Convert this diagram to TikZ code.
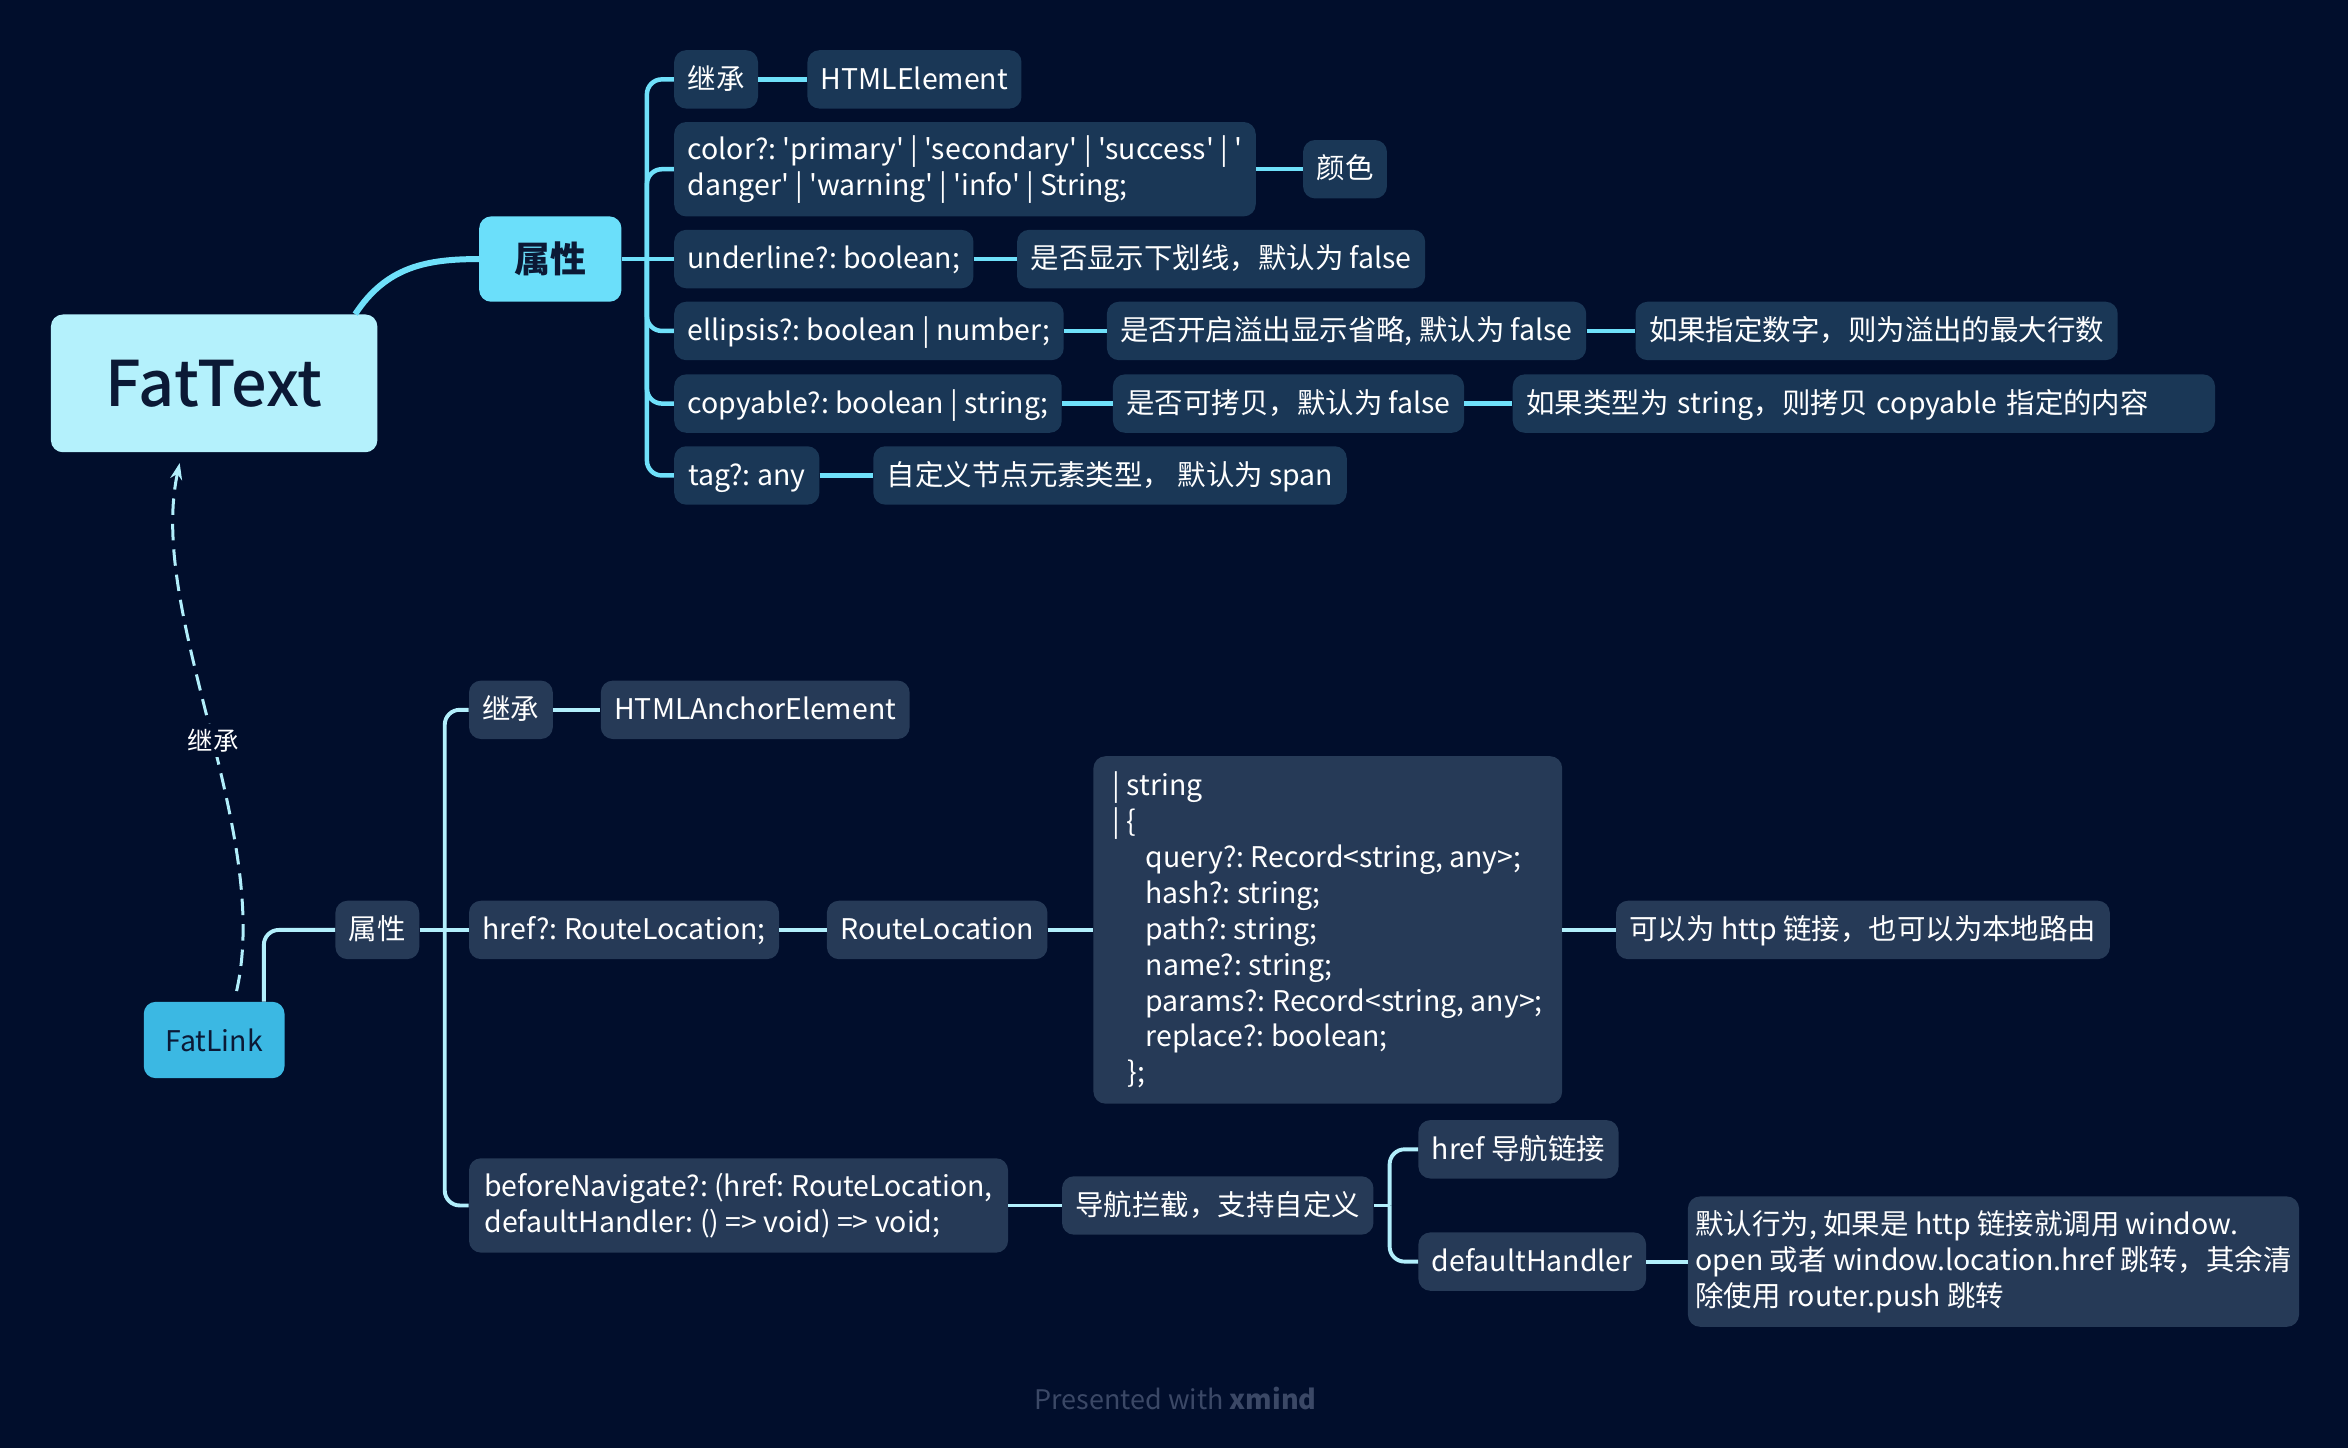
\documentclass[tikz,border=0pt]{standalone}
\usepackage{fontspec}
\usepackage{tikz}
\usetikzlibrary{arrows.meta}
\newfontfamily\cjk{Noto Sans CJK SC}
\newfontfamily\cjkmed{Noto Sans CJK SC Medium}
\newcommand{\mmfont}[1]{\cjk\fontsize{#1}{24}\selectfont\frenchspacing}

\definecolor{mmbg}{HTML}{010E2C}
\definecolor{toplinec}{HTML}{6FE0FA}
\definecolor{topboxc}{HTML}{1A3756}
\definecolor{botlinec}{HTML}{B2EFFC}
\definecolor{botboxc}{HTML}{263A57}
\definecolor{rootc}{HTML}{B4F1FC}
\definecolor{propc}{HTML}{6BDFFA}
\definecolor{linkc}{HTML}{3BB8E3}
\definecolor{darktext}{HTML}{0B1935}
\definecolor{footc}{HTML}{3B4866}

\tikzset{
  box/.style={rounded corners=8pt, anchor=west, text=white, inner xsep=9pt, font=\mmfont{19}},
  tbox/.style={box, fill=topboxc, minimum height=39pt, text height=16pt, text depth=3pt},
  bbox/.style={box, fill=botboxc, minimum height=39pt, text height=16pt, text depth=3pt},
  tmulti/.style={box, fill=topboxc, align=left},
  bmulti/.style={box, fill=botboxc, align=left},
  tline/.style={draw=toplinec, line width=3pt},
  bline/.style={draw=botlinec, line width=2.6pt},
  inhedge/.style={draw=botlinec, line width=2pt, dash pattern=on 11pt off 6pt, -{Stealth[length=11pt,width=8pt]}},
}

\begin{document}
\begin{tikzpicture}[x=1pt,y=-1pt]
  \fill[mmbg] (0,0) rectangle (1568,967);
  \useasboundingbox (0,0) rectangle (1568,967);

  % main topics
  \node[fill=rootc, text=darktext, rounded corners=8pt, minimum width=218pt, minimum height=92pt, font=\cjkmed\fontsize{42}{48}\selectfont] (fattext) at (143,256) {FatText};
  \node[fill=propc, text=darktext, rounded corners=8pt, minimum width=95pt, minimum height=57pt, font=\mmfont{24}\bfseries] (tprop) at (367.5,173) {属性};
  \node[fill=linkc, text=darktext, rounded corners=8pt, minimum width=94pt, minimum height=51pt, font=\mmfont{19}] (fatlink) at (143,694.5) {FatLink};

  % FatText
  \node[tbox, minimum width=54pt] (tinh) at (450,53) {继承};
  \node[tbox, minimum width=135pt] (thtml) at (539,53) {HTMLElement};
  \node[tmulti, minimum width=384pt, minimum height=63pt] (tcolor) at (450,113) {color?: 'primary' | 'secondary' | 'success' | '\\danger' | 'warning' | 'info' | String;};
  \node[tbox, minimum width=52pt] (tyan) at (870,113) {颜色};
  \node[tbox, minimum width=194pt] (tul) at (450,173) {underline?: boolean;};
  \node[tbox, minimum width=268pt] (tuld) at (679,173) {是否显示下划线，默认为 false};
  \node[tbox, minimum width=253pt] (tell) at (450,221) {ellipsis?: boolean | number;};
  \node[tbox, minimum width=317pt] (telld) at (739,221) {是否开启溢出显示省略, 默认为 false};
  \node[tbox, minimum width=314pt] (tellx) at (1092,221) {如果指定数字，则为溢出的最大行数};
  \node[tbox, minimum width=257pt] (tcp) at (450,269.5) {copyable?: boolean | string;};
  \node[tbox, minimum width=231pt] (tcpd) at (743,269.5) {是否可拷贝，默认为 false};
  \node[tbox, text width=451pt] (tcpx) at (1010,269.5) {如果类型为 string，则拷贝 copyable 指定的内容};
  \node[tbox, minimum width=97pt] (ttag) at (450,317.5) {tag?: any};
  \node[tbox, minimum width=311pt] (ttagd) at (583,317.5) {自定义节点元素类型， 默认为 span};

  \draw[tline, line width=4pt] ([xshift=-15pt]fattext.north east) .. controls (258,178) and (285,173) .. (tprop.west);
  \coordinate (tj) at (432,173);
  \draw[tline] (tprop.east) -- (tj) -- (tul.west);
  \foreach \n in {tinh,tcolor,tell,tcp,ttag}
    \draw[tline, rounded corners=10pt] (tj) |- (\n.west);
  \foreach \a/\b in {tinh/thtml,tcolor/tyan,tul/tuld,tell/telld,telld/tellx,tcp/tcpd,tcpd/tcpx,ttag/ttagd}
    \draw[tline] (\a.east) -- (\b.west);

  % FatLink
  \node[bbox, minimum width=52pt, anchor=center] (bprop) at (252,621) {属性};
  \node[bbox, minimum width=54pt] (binh) at (313,474) {继承};
  \node[bbox, minimum width=199pt] (banchor) at (401,474) {HTMLAnchorElement};
  \node[bbox, minimum width=204pt] (bhref) at (313,621) {href?: RouteLocation;};
  \node[bbox, minimum width=143pt] (brl) at (552,621) {RouteLocation};
  \node[bmulti, minimum width=313pt, minimum height=232pt] (btype) at (730,621) {%
    | string\\
    | \{\\
    \hspace*{22pt}query?: Record<string, any>;\\
    \hspace*{22pt}hash?: string;\\
    \hspace*{22pt}path?: string;\\
    \hspace*{22pt}name?: string;\\
    \hspace*{22pt}params?: Record<string, any>;\\
    \hspace*{22pt}replace?: boolean;\\
    \hspace*{10pt}\};};
  \node[bbox, minimum width=324pt] (bhttp) at (1079,621) {可以为 http 链接，也可以为本地路由};
  \node[bmulti, minimum width=360pt, minimum height=63pt] (bbn) at (313,805) {beforeNavigate?: (href: RouteLocation,\\defaultHandler: () => void) => void;};
  \node[bbox, minimum width=202pt] (bnav) at (709,805) {导航拦截，支持自定义};
  \node[bbox, minimum width=131pt] (bhn) at (947,767.5) {href 导航链接};
  \node[bbox, minimum width=144pt] (bdh) at (947,842.5) {defaultHandler};
  \node[bmulti, inner xsep=5pt, minimum width=406pt, minimum height=87pt] (bdhd) at (1127,842.5) {默认行为, 如果是 http 链接就调用 window.\\open 或者 window.location.href 跳转，其余清\\除使用 router.push 跳转};

  \draw[bline, rounded corners=10pt] ([xshift=-14pt]fatlink.north east) |- (bprop.west);
  \coordinate (bj) at (297,621);
  \draw[bline] (bprop.east) -- (bj) -- (bhref.west);
  \foreach \n in {binh,bbn}
    \draw[bline, rounded corners=10pt] (bj) |- (\n.west);
  \foreach \a/\b in {binh/banchor,bhref/brl,brl/btype,btype/bhttp,bbn/bnav,bdh/bdhd}
    \draw[bline] (\a.east) -- (\b.west);
  \coordinate (nj) at (928,805);
  \draw[bline] (bnav.east) -- (nj);
  \foreach \n in {bhn,bdh}
    \draw[bline, rounded corners=10pt] (nj) |- (\n.west);

  % inheritance
  \draw[inhedge] ([xshift=15pt,yshift=7pt]fatlink.north) .. controls (182,555) and (98,410) .. node[pos=0.47, fill=mmbg, text=white, inner sep=3pt, font=\mmfont{17}] (inhlbl) {继承} ([xshift=-23pt,yshift=-7pt]fattext.south);

  \node[text=footc, font=\mmfont{18}] (credit) at (785,934) {Presented with \textbf{xmind}};
\end{tikzpicture}
\end{document}
